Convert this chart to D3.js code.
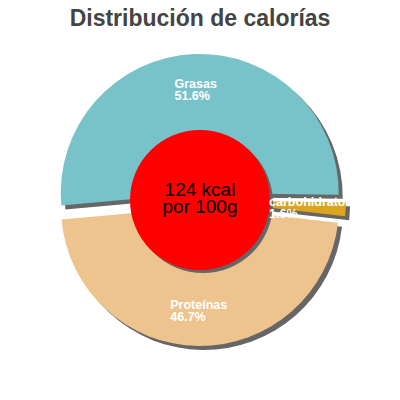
<!DOCTYPE html>
<html>
<head>
<meta charset="utf-8">
<script src="https://cdn.jsdelivr.net/npm/d3@7"></script>
<style>
  html, body { margin: 0; padding: 0; background: #fff; }
  svg { display: block; font-family: "Liberation Sans", Arial, sans-serif; }
</style>
</head>
<body>
<svg id="chart" width="400" height="400"></svg>
<script>
// DATA
var categorias = ["Grasas", "carbohidratos", "Proteínas"];
var porcentajes = [51.6, 1.6, 46.7];
var colores = ["#78c3ca", "#daa520", "#edc48e"];
var titulo = "Distribución de calorías";
var centro = ["124 kcal", "por 100g"];

//
// S E T U P
//
var W = 400, H = 400,
    cx = 200, cy = 200,
    R = 139,        // pie radius
    rIn = 70,       // red disc
    sep = 7,        // explode distance
    rad = Math.PI / 180,
    start = -95.2 * rad;

var svg = d3.select('#chart');

var datos = categorias.map(function(c, i){
  return {nombre: c, valor: porcentajes[i], color: colores[i]};
});

var pie = d3.pie()
  .sort(null)
  .value(function(d){ return d.valor; })
  .startAngle(start)
  .endAngle(start + 2 * Math.PI);

var arc = d3.arc().innerRadius(0).outerRadius(R);
var labelArc = d3.arc().innerRadius(104).outerRadius(104);

var arcs = pie(datos);

function offset(a){
  var m = (a.startAngle + a.endAngle) / 2;
  return [Math.sin(m) * sep, -Math.cos(m) * sep];
}

// TITLE
svg.append('text')
  .attr('x', W / 2)
  .attr('y', 26)
  .attr('text-anchor', 'middle')
  .attr('font-size', 23)
  .attr('font-weight', 'bold')
  .attr('fill', '#444')
  .text(titulo);

var g = svg.append('g').attr('transform', 'translate(' + cx + ',' + cy + ')');

// SHADOWS FIRST
g.selectAll('path.sombra')
  .data(arcs)
  .enter()
  .append('path')
    .attr('class', 'sombra')
    .attr('d', arc)
    .attr('fill', '#666')
    .attr('transform', function(a){
      var o = offset(a);
      return 'translate(' + (o[0] + 4) + ',' + (o[1] + 4) + ')';
    });

// SLICES
g.selectAll('path.trozo')
  .data(arcs)
  .enter()
  .append('path')
    .attr('class', 'trozo')
    .attr('d', arc)
    .attr('fill', function(a){ return a.data.color; })
    .attr('transform', function(a){
      var o = offset(a);
      return 'translate(' + o[0] + ',' + o[1] + ')';
    });

// RED DISC + shadow
g.append('circle').attr('cx', 3).attr('cy', 3).attr('r', rIn).attr('fill', '#666');
g.append('circle').attr('r', rIn).attr('fill', '#ff0000');

g.selectAll('text.centro')
  .data(centro)
  .enter()
  .append('text')
    .attr('class', 'centro')
    .attr('text-anchor', 'middle')
    .attr('y', function(d, i){ return -4 + i * 17; })
    .attr('font-size', 19)
    .attr('fill', '#000')
    .text(function(d){ return d; });

// LABELS (clipped at the right edge like the original)
svg.append('clipPath').attr('id', 'recorte')
  .append('rect').attr('x', 0).attr('y', 0).attr('width', 347).attr('height', H);

var etiquetas = svg.append('g')
  .attr('clip-path', 'url(#recorte)')
  .append('g')
  .attr('transform', 'translate(' + cx + ',' + cy + ')');

arcs.forEach(function(a){
  var o = offset(a),
      c = labelArc.centroid(a),
      lineas = [a.data.nombre, a.data.valor.toFixed(1) + '%'];

  var t = etiquetas.append('text')
    .attr('fill', '#fff')
    .attr('font-size', 12.5)
    .attr('font-weight', 'bold');

  lineas.forEach(function(l, i){
    t.append('tspan')
      .attr('y', o[1] + c[1] - 1.5 + i * 12)
      .text(l);
  });

  // esto es para centrar el bloque con la linea mas ancha
  var ancho = 0;
  t.selectAll('tspan').each(function(){
    ancho = Math.max(ancho, this.getComputedTextLength());
  });
  t.selectAll('tspan').attr('x', o[0] + c[0] - ancho / 2);
});
</script>
</body>
</html>
